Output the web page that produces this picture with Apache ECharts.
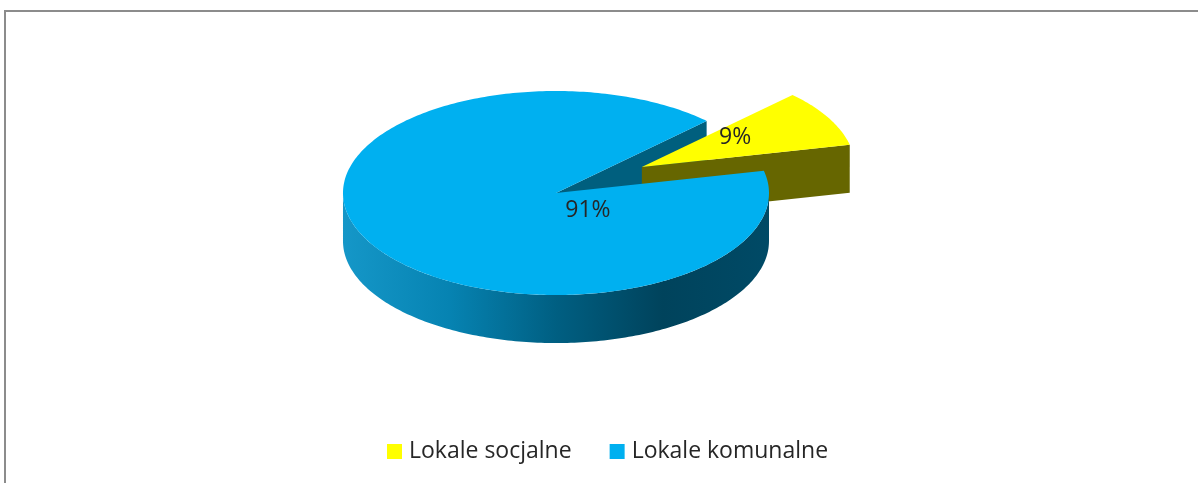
<!DOCTYPE html>
<html>
<head>
<meta charset="utf-8">
<title>Lokale</title>
<script src="https://cdn.jsdelivr.net/npm/echarts@6/dist/echarts.min.js"></script>
<style>
    html, body { margin: 0; padding: 0; background: #fff; overflow: hidden; }
    body { width: 1198px; height: 483px; position: relative; }
    #frame {
        position: absolute; left: 4px; top: 10px; width: 1300px; height: 600px;
        border: 2px solid #8c8c8c; box-sizing: border-box;
    }
    #chart-pane { position: absolute; left: 0; top: 0; width: 1198px; height: 483px; }
</style>
</head>
<body>
<div id="frame"></div>
<div id="chart-pane"></div>
<script>
    // dane
    var categories = ['Lokale socjalne', 'Lokale komunalne'];
    var values = [9, 91];

    // kolory: wierzch, przekroj, sciana boczna
    var topColors = ['#ffff00', '#00b0f0'];
    var cutColors = ['#666600', '#005f7e'];
    var wallStops = [
        ['#7a7a00', '#4f4f00'],
        ['#1597c8', '#0683b2', '#005f82', '#00435c', '#004a66']
    ];
    var explode = [0.46, 0];

    var total = values.reduce(function (a, b) { return a + b; }, 0);
    var startAngle = 45;
    var rad = Math.PI / 180;

    function gradient(stops) {
        return new echarts.graphic.LinearGradient(0, 0, 1, 0, stops.map(function (c, k) {
            return { offset: k / (stops.length - 1), color: c };
        }));
    }

    function renderSlice(params, api) {
        var i = params.seriesIndex;
        var v = api.value(0);
        var w = api.getWidth(), h = api.getHeight();
        var cx = w * 0.4641, cy = h * 0.3996;
        var rx = w * 0.1778, ry = h * 0.2112, depth = h * 0.0994;

        var before = 0;
        for (var k = 0; k < i; k++) before += values[k];
        var a0 = startAngle - before / total * 360;
        var a1 = a0 - v / total * 360;
        var mid = (a0 + a1) / 2;
        var ox = explode[i] * rx * Math.cos(mid * rad);
        var oy = -explode[i] * ry * Math.sin(mid * rad) * 1.15;

        function P(t, dz) {
            return [cx + ox + rx * Math.cos(t * rad), cy + oy - ry * Math.sin(t * rad) + (dz || 0)];
        }
        var C = [cx + ox, cy + oy];
        var Cb = [cx + ox, cy + oy + depth];
        var children = [];

        // przekroje
        function cutFace(a) {
            children.push({
                type: 'polygon', z2: explode[i] ? 2 : 1,
                shape: { points: [C, P(a), P(a, depth), Cb] },
                style: { fill: cutColors[i] }
            });
        }
        if (Math.cos(a0 * rad) < 0) cutFace(a0);
        if (Math.cos(a1 * rad) > 0) cutFace(a1);

        // sciana boczna (przednia polowa)
        for (var n = Math.floor(a1 / 360) - 1; n <= Math.ceil(a0 / 360) + 1; n++) {
            var lo = Math.max(a1, 360 * n - 180), hi = Math.min(a0, 360 * n);
            if (lo >= hi) continue;
            var topPts = [], botPts = [];
            for (var t = hi; t > lo; t -= 1) {
                topPts.push(P(t));
                botPts.push(P(t, depth));
            }
            topPts.push(P(lo));
            botPts.push(P(lo, depth));
            children.push({
                type: 'polygon', z2: 3,
                shape: { points: topPts.concat(botPts.reverse()) },
                style: { fill: gradient(wallStops[i]) }
            });
        }

        // wierzch
        var pts = [C];
        for (var s = a0; s > a1; s -= 1) pts.push(P(s));
        pts.push(P(a1));
        children.push({
            type: 'polygon', z2: 4,
            shape: { points: pts },
            style: { fill: topColors[i] }
        });

        // etykieta
        var lx, ly;
        if (v / total > 0.5) {
            lx = C[0] + rx * 0.15;
            ly = C[1] + ry * 0.17;
        } else {
            lx = C[0] + 0.5 * rx * Math.cos(mid * rad);
            ly = C[1] - 0.5 * ry * Math.sin(mid * rad) - 5;
        }
        children.push({
            type: 'text', z2: 5,
            style: {
                x: lx, y: ly,
                text: Math.round(v / total * 100) + '%',
                fill: '#262626',
                font: '23px "Open Sans"',
                align: 'center',
                verticalAlign: 'middle'
            }
        });

        return { type: 'group', children: children };
    }

    var lokaleChart = echarts.init(document.getElementById('chart-pane'));
    var lokaleOption = {
        animation: false,
        legend: {
            left: 382,
            top: 435,
            icon: 'rect',
            itemWidth: 15,
            itemHeight: 15,
            itemGap: 38,
            textStyle: {
                fontFamily: 'Open Sans', fontSize: 23, color: '#262626',
                padding: [0, 0, 0, 2]
            },
            data: categories.map(function (name, i) {
                return { name: name, itemStyle: { color: topColors[i] } };
            })
        },
        series: categories.map(function (name, i) {
            return {
                name: name,
                type: 'custom',
                coordinateSystem: 'none',
                itemStyle: { color: topColors[i] },
                renderItem: renderSlice,
                data: [values[i]]
            };
        })
    };

    lokaleChart.setOption(lokaleOption);
</script>
</body>
</html>
